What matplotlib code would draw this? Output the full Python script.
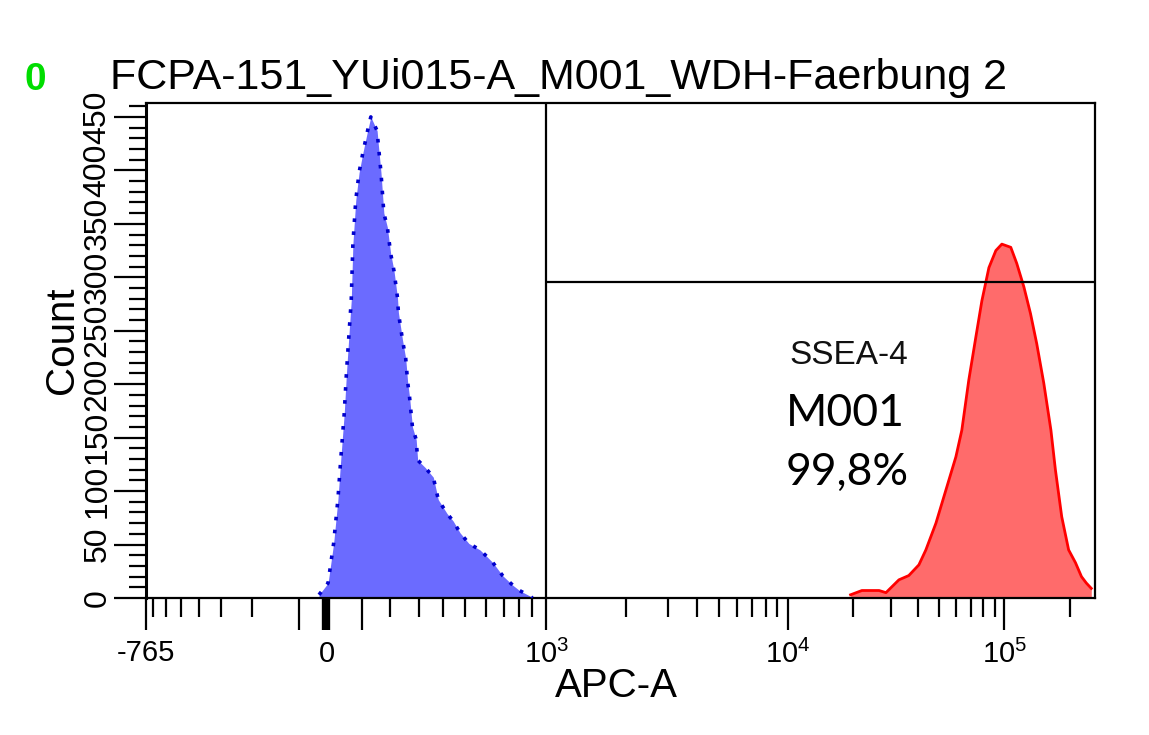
import numpy as np
import matplotlib
matplotlib.use("Agg")
import matplotlib.pyplot as plt

# ---------------- data ----------------
title = "FCPA-151_YUi015-A_M001_WDH-Faerbung 2"
x_label = "APC-A"
y_label = "Count"

# unstained / isotype histogram (blue)
blue_x = [-24, 4, 18, 29, 37, 46, 52, 60, 66, 71, 80, 91, 103, 117, 127, 148, 152, 162,
          173, 187, 201, 211, 222, 225, 239, 250, 257, 264, 275, 290, 296, 325, 358, 380,
          418, 444, 475, 516, 568, 602, 637, 694, 756, 800, 877, 900]
blue_y = [3, 14, 51, 92, 132, 173, 210, 250, 278, 331, 372, 398, 416, 437, 450, 437, 425, 398,
          360, 347, 322, 306, 281, 267, 241, 224, 202, 188, 160, 148, 129, 122, 113, 92,
          79, 72, 61, 51, 45, 39, 33, 21, 12, 7, 2, 0]

# SSEA-4 stained histogram (red)
red_x = [19500, 22000, 26400, 28400, 32600, 36200, 40300, 43400, 48300, 53700, 59700,
         63600, 68500, 73800, 78700, 84800, 91300, 97300, 107000, 114000, 123000, 132000,
         141000, 152000, 164000, 172000, 184000, 198000, 213000, 227000, 239000, 252000]
red_y = [3, 7, 7, 5, 17, 21, 31, 45, 70, 101, 132, 157, 204, 244, 278, 309, 325, 331,
         328, 313, 291, 266, 238, 201, 157, 120, 76, 45, 33, 20, 14, 9]

gate_x = 1000        # M001 marker start
gate_y = 296         # marker height
x_min, x_max = -765, 262144
y_max = 463

major_xticks = [-765, -100, 0, 100, 1000, 10000, 100000]
major_xlabels = ["", "", "0", "", "$10^{3}$", "$10^{4}$", "$10^{5}$"]
minor_xticks = [-700, -600, -500, -400, -300, -200, 200, 300, 400, 500, 600, 700, 800, 900,
                2000, 3000, 4000, 5000, 6000, 7000, 8000, 9000,
                20000, 30000, 40000, 50000, 60000, 70000, 80000, 90000, 200000]
major_yticks = [0, 50, 100, 150, 200, 250, 300, 350, 400, 450]
minor_yticks = list(range(0, 461, 10))

marker_name = "SSEA-4"
marker_gate = "M001"
marker_pct = "99,8%"

# ---------------- biexponential-like display scale ----------------
scale_v = np.array([-765, -100, 0, 100, 200, 300, 400, 500, 600, 700, 800, 900, 1000,
                    2000, 3000, 10000, 100000, 262144], dtype=float)
scale_p = np.array([146, 299, 326.7, 362, 390.7, 419, 443, 465.7, 486.7, 504, 520, 533, 547,
                    627, 668.7, 788.6, 1005.6, 1096.3])
scale_t = np.arcsinh(scale_v / 100.0)


def fwd(x):
    return np.interp(np.arcsinh(np.asarray(x, dtype=float) / 100.0), scale_t, scale_p)


def inv(p):
    return 100.0 * np.sinh(np.interp(np.asarray(p, dtype=float), scale_p, scale_t))


plt.rcParams["font.family"] = ["Liberation Sans", "DejaVu Sans"]
plt.rcParams["mathtext.fontset"] = "custom"
plt.rcParams["mathtext.rm"] = "Liberation Sans"
plt.rcParams["mathtext.it"] = "Liberation Sans"
plt.rcParams["mathtext.default"] = "regular"

W, H = 1149, 735
fig = plt.figure(figsize=(W / 100, H / 100), dpi=100)
ax = fig.add_axes([146 / W, 1 - 598 / H, (1095 - 146) / W, (598 - 103) / H])
ax.set_xscale("function", functions=(fwd, inv))
ax.set_xlim(x_min, x_max)
ax.set_ylim(0, y_max)

# histograms
ax.fill_between(blue_x, blue_y, 0, color="#6b6bff", linewidth=0, zorder=2)
ax.plot(blue_x, blue_y, color="#0000cc", linewidth=2.6, linestyle=(0, (1, 2.6)), zorder=3)
ax.fill_between(red_x, red_y, 0, color="#ff6b6b", linewidth=0, zorder=2)
ax.plot(red_x, red_y, color="#ff0000", linewidth=2.0, zorder=3)

# marker lines
ax.axvline(gate_x, color="black", linewidth=1.6, zorder=4)
ax.hlines(gate_y, gate_x, x_max, color="black", linewidth=1.6, zorder=4)

# spines
for s in ax.spines.values():
    s.set_linewidth(1.6)
ax.spines["left"].set_linewidth(2.2)

# ticks
ax.set_xticks(major_xticks)
ax.set_xticklabels(major_xlabels)
ax.set_xticks(minor_xticks, minor=True)
ax.set_yticks(major_yticks)
ax.set_yticklabels([str(v) for v in major_yticks])
ax.set_yticks(minor_yticks, minor=True)
ax.tick_params(axis="x", which="major", length=23, width=1.6, pad=7, labelsize=21)
ax.tick_params(axis="x", which="minor", length=13.5, width=1.6)
ax.tick_params(axis="y", which="major", length=23, width=1.6, pad=1.0, labelsize=23,
               labelrotation=90)
ax.tick_params(axis="y", which="minor", length=12, width=1.6)
for lab in ax.get_yticklabels():
    lab.set_va("center")
    lab.set_ha("right")
for t, v in zip(ax.xaxis.get_major_ticks(), major_xticks):
    if v == 0:
        t.tick1line.set_markeredgewidth(6)

# -765 label (lower than the others)
ax.text(x_min, -0.112, "-765", transform=ax.get_xaxis_transform(), ha="center", va="center",
        fontsize=21)

# axis titles
fig.text(616 / W, 1 - 686 / H, x_label, ha="center", va="center", fontsize=29)
fig.text(62 / W, 1 - 340 / H, y_label, ha="center", va="center", fontsize=29, rotation=90)

# plot title and green status mark
fig.text(110 / W, 1 - 78 / H, title, ha="left", va="center", fontsize=31)
fig.text(24 / W, 1 - 80 / H, "0", ha="left", va="center", fontsize=28, fontweight="bold",
         color="#00dd00")

# annotations
fig.text(789 / W, 1 - 356 / H, marker_name, ha="left", va="center", fontsize=24,
         color="#111111")
fig.text(786 / W, 1 - 413 / H, marker_gate, ha="left", va="center", fontsize=32,
         family=["Lato", "DejaVu Sans"])
fig.text(786 / W, 1 - 472 / H, marker_pct, ha="left", va="center", fontsize=32,
         family=["Lato", "DejaVu Sans"])

fig.savefig("out.png", dpi=100)
